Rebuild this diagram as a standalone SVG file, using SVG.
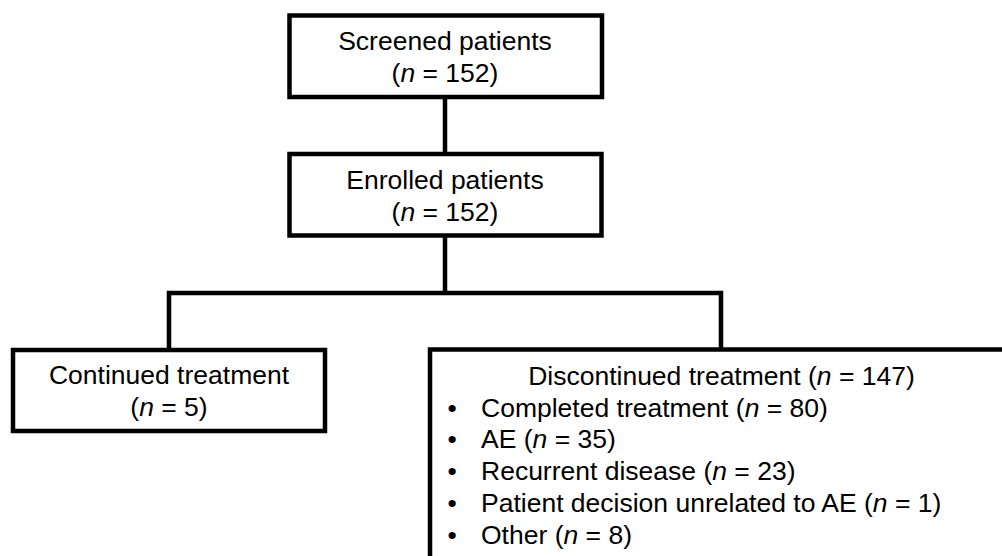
<svg xmlns="http://www.w3.org/2000/svg" width="1002" height="556" viewBox="0 0 1002 556">
<style>
.box{fill:#fff;stroke:#000;stroke-width:4.5}
.conn{fill:none;stroke:#000;stroke-width:4.5;stroke-linejoin:miter;stroke-linecap:butt}
text{font-family:"Liberation Sans",Arial,sans-serif;font-size:26.5px;fill:#000}
.c{text-anchor:middle}
.i{font-style:italic}
</style>
<rect width="1002" height="556" fill="#fff"/>
<g id="connectors">
<path class="conn" d="M445,97 V154"/>
<path class="conn" d="M445,235.5 V293"/>
<path class="conn" d="M169,350 V293 H721 V349.5"/>
</g>
<g id="screened">
<rect class="box" x="289.5" y="15.5" width="312.5" height="81.5"/>
<text class="c" x="445" y="49.5">Screened patients</text>
<text class="c" x="445" y="81.5">(<tspan class="i">n</tspan> = 152)</text>
</g>
<g id="enrolled">
<rect class="box" x="289.5" y="154" width="312" height="81.5"/>
<text class="c" x="445" y="188.5">Enrolled patients</text>
<text class="c" x="445" y="220.5">(<tspan class="i">n</tspan> = 152)</text>
</g>
<g id="continued">
<rect class="box" x="13" y="350" width="312" height="81"/>
<text class="c" x="169" y="383.5">Continued treatment</text>
<text class="c" x="169" y="416">(<tspan class="i">n</tspan> = 5)</text>
</g>
<g id="discontinued">
<rect class="box" x="430" y="349.5" width="620" height="260"/>
<text class="c" x="721.5" y="384.5">Discontinued treatment (<tspan class="i">n</tspan> = 147)</text>
<text x="447.5" y="416.5">•</text><text x="481" y="416.5">Completed treatment (<tspan class="i">n</tspan> = 80)</text>
<text x="447.5" y="448">•</text><text x="481" y="448">AE (<tspan class="i">n</tspan> = 35)</text>
<text x="447.5" y="480">•</text><text x="481" y="480">Recurrent disease (<tspan class="i">n</tspan> = 23)</text>
<text x="447.5" y="511.5">•</text><text x="481" y="511.5">Patient decision unrelated to AE (<tspan class="i">n</tspan> = 1)</text>
<text x="447.5" y="543.5">•</text><text x="481" y="543.5">Other (<tspan class="i">n</tspan> = 8)</text>
</g>
</svg>
